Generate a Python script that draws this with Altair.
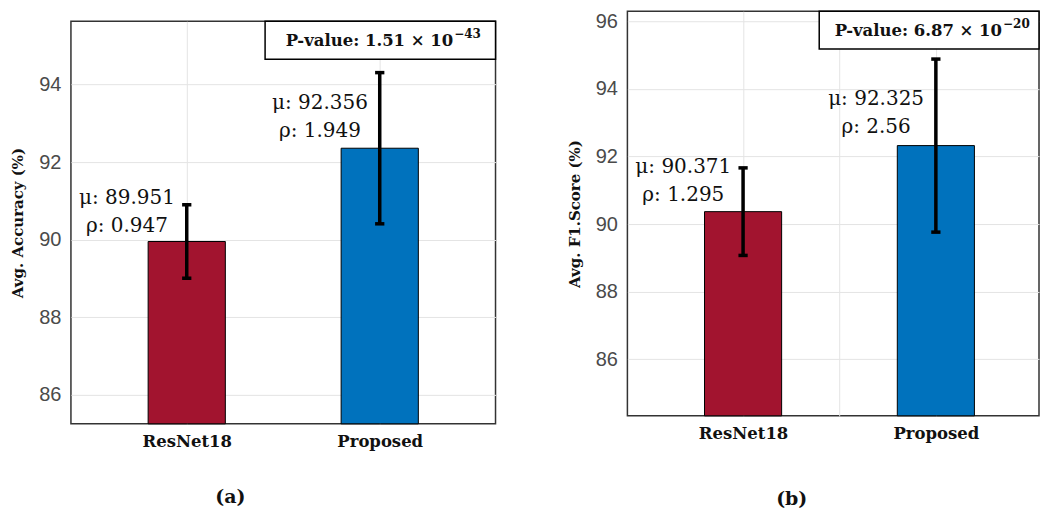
import altair as alt
import pandas as pd

# ---------------- data ----------------
models = ["ResNet18", "Proposed"]
positions = [1, 2]
bar_colors = ["#A2142F", "#0072BD"]

acc_mean = [89.951, 92.356]
acc_std = [0.947, 1.949]
f1_mean = [90.371, 92.325]
f1_std = [1.295, 2.56]

acc_p_main = "P-value: 1.51 × 10"
acc_p_exp = "−43"
f1_p_main = "P-value: 6.87 × 10"
f1_p_exp = "−20"

acc_yticks = [86, 88, 90, 92, 94]
f1_yticks = [86, 88, 90, 92, 94, 96]

# annotation anchors (data units, first text line)
acc_label_y = [91.06, 93.52]
f1_label_y = [91.70, 93.69]

GRID = "#e4e4e4"
SERIF = "DejaVu Serif"

label_expr = " : ".join(
    [f"datum.value == {p} ? '{m}'" for p, m in zip(positions, models)]
) + " : ''"


def panel(means, stds, label_y, ytitle, ydom, yticks, xdom, xticks,
          box_x0, box_y0, p_main, p_exp, sub, w, h, title_x, title_y):
    df = pd.DataFrame({
        "model": models, "pos": positions, "mean": means, "std": stds,
        "label_y": label_y, "color": bar_colors,
    })
    xscale = alt.Scale(domain=xdom, nice=False, zero=False)
    yscale = alt.Scale(domain=ydom, nice=False, zero=False)
    xaxis = alt.Axis(
        values=xticks, labelExpr=label_expr, grid=True, gridColor=GRID,
        ticks=False, tickSize=0, domain=False,
        labelFont=SERIF, labelFontWeight="bold", labelFontSize=16.5,
        labelColor="#111111", labelPadding=10,
        title=sub, titleFont=SERIF, titleFontWeight="bold", titleFontSize=19,
        titleColor="#111111", titleX=title_x, titleY=title_y,
        titleBaseline="middle", titleAlign="center",
    )
    yaxis = alt.Axis(
        values=yticks, grid=True, gridColor=GRID, ticks=False, tickSize=0,
        domain=False, labelFont="Liberation Sans", labelFontSize=20,
        labelColor="#4a4a4a", labelPadding=10,
        title=ytitle, titleFont=SERIF, titleFontWeight="bold",
        titleFontSize=15, titleColor="#111111", titlePadding=13,
    )

    def X(f):
        return alt.X(f, scale=xscale, axis=xaxis)

    def Y(f):
        return alt.Y(f, scale=yscale, axis=yaxis)

    base = alt.Chart(df).transform_calculate(
        x0="datum.pos - 0.2", x1="datum.pos + 0.2", base=str(ydom[0]),
        lo="datum.mean - datum.std", hi="datum.mean + datum.std",
        c0="datum.pos - 0.024", c1="datum.pos + 0.024",
        lx="datum.pos - 0.31",
        lab="'μ: ' + datum.mean + '|ρ: ' + datum.std",
    )

    bars = base.mark_rect(stroke="black", strokeWidth=1).encode(
        x=X("x0:Q"), x2="x1:Q", y=Y("mean:Q"), y2="base:Q",
        color=alt.Color("color:N", scale=None),
    )
    err = base.mark_rule(color="black", strokeWidth=3.5).encode(
        x=X("pos:Q"), y=Y("lo:Q"), y2="hi:Q"
    )
    cap_hi = base.mark_rule(color="black", strokeWidth=3.5).encode(
        x=X("c0:Q"), x2="c1:Q", y=Y("hi:Q")
    )
    cap_lo = base.mark_rule(color="black", strokeWidth=3.5).encode(
        x=X("c0:Q"), x2="c1:Q", y=Y("lo:Q")
    )
    labels = base.mark_text(
        font=SERIF, fontSize=20, lineBreak="|", lineHeight=28,
        align="center", baseline="middle", color="#111111",
    ).encode(x=X("lx:Q"), y=Y("label_y:Q"), text="lab:N")

    box_df = pd.DataFrame({
        "bx0": [box_x0], "bx1": [xdom[1]], "by0": [box_y0], "by1": [ydom[1]],
        "main": [p_main], "exp": [p_exp],
    })
    bbase = alt.Chart(box_df).transform_calculate(
        cx="(datum.bx0 + datum.bx1) / 2", cy="(datum.by0 + datum.by1) / 2"
    )
    box = bbase.mark_rect(fill="white", stroke="black", strokeWidth=1.5).encode(
        x=X("bx0:Q"), x2="bx1:Q", y=Y("by0:Q"), y2="by1:Q"
    )
    btxt = bbase.mark_text(
        font=SERIF, fontWeight="bold", fontSize=16.5, align="right",
        baseline="middle", color="#111111", dx=73, dy=1,
    ).encode(x=X("cx:Q"), y=Y("cy:Q"), text="main:N")
    bexp = bbase.mark_text(
        font=SERIF, fontWeight="bold", fontSize=12, align="left",
        baseline="middle", color="#111111", dx=74, dy=-6,
    ).encode(x=X("cx:Q"), y=Y("cy:Q"), text="exp:N")

    return alt.layer(bars, err, cap_hi, cap_lo, labels, box, btxt, bexp).properties(
        width=w, height=h
    )


pa = panel(acc_mean, acc_std, acc_label_y, "Avg. Accuracy (%)",
           [85.25, 95.63], acc_yticks, [0.4, 2.6], [1, 2],
           1.406, 94.65, acc_p_main, acc_p_exp, "(a)", 425, 403, 159, 73)
pb = panel(f1_mean, f1_std, f1_label_y, "Avg. F1.Score (%)",
           [84.33, 96.3], f1_yticks, [0.4, 2.535], [1, 1.5, 2],
           1.395, 95.18, f1_p_main, f1_p_exp, "(b)", 412, 405, 164, 83)

spacer = alt.Chart(pd.DataFrame({"v": [0]})).mark_rect(opacity=0).encode(
    x=alt.value(0), x2=alt.value(1), y=alt.value(0), y2=alt.value(1)
).properties(width=425, height=1, view=alt.ViewBackground(strokeOpacity=0))

left = alt.vconcat(spacer, pa, spacing=7)

chart = alt.hconcat(left, pb, spacing=69).properties(
    padding={"left": 2, "top": 1, "right": 0, "bottom": 0}
).configure_view(stroke="#333333", strokeWidth=1.5)

chart.save("out.html", embed_options={"renderer": "svg", "actions": False})
